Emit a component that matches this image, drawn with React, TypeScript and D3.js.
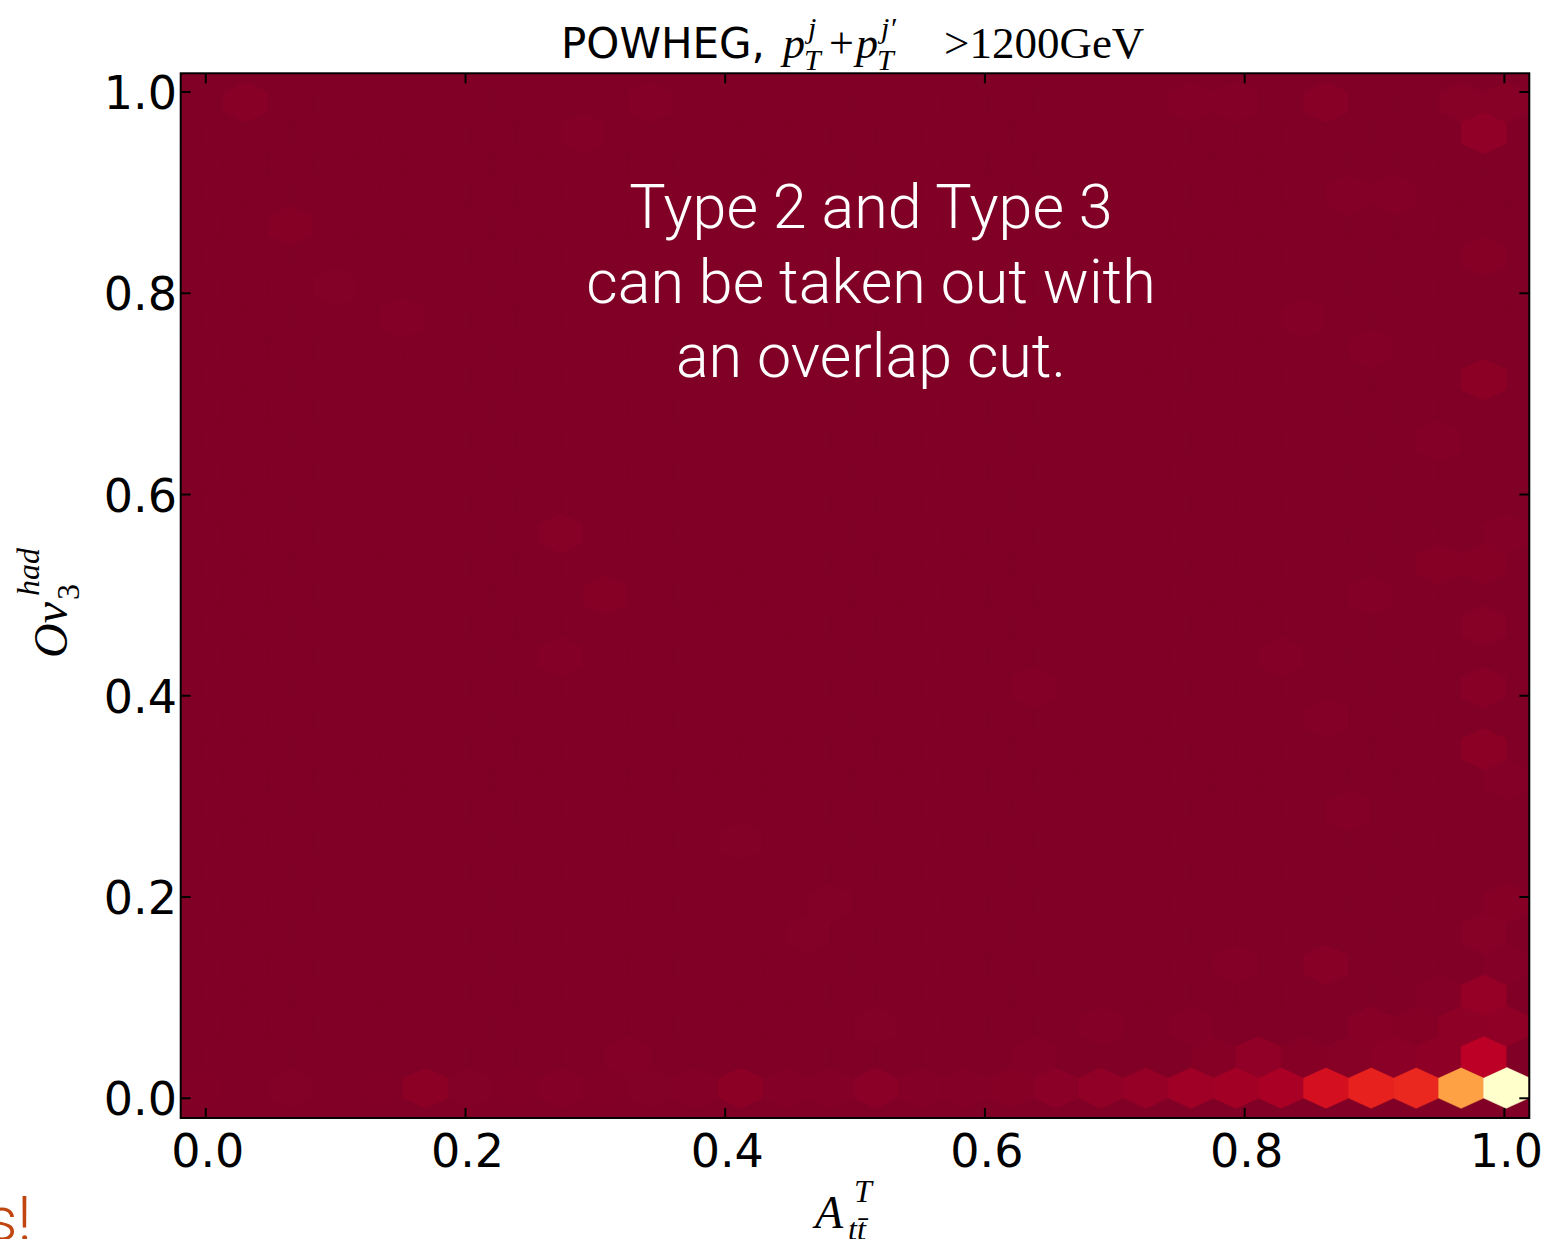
import React from 'react';
import * as d3 from 'd3';

// ---------------- data ----------------
const xTicks = [0.0, 0.2, 0.4, 0.6, 0.8, 1.0];
const yTicks = [0.0, 0.2, 0.4, 0.6, 0.8, 1.0];
const xDomain = [-0.0193, 1.0192];
const yDomain = [-0.0196, 1.0186];

// hexbin grid extent and size (gridsize 29)
const gridNx = 29;
const gridNy = 16;
const gridX = [-0.004, 1.0014];
const gridY = [0.0104, 0.9896];

// lattice A, bottom row (j = 0), i = 0..29 : counts
const bottomRowCounts = [4, 3, 6, 3, 5, 25, 6, 4, 8, 5, 6, 8, 24, 10, 8, 22, 9, 10, 12, 20, 35, 45, 66, 72, 86, 200, 270, 284, 568, 1000];

// other non-empty cells of lattice A : [i, j, count]
const latticeACells: [number, number, number][] = [
  [29, 1, 33], [28, 1, 30], [27, 1, 12], [26, 1, 16], [22, 1, 8], [20, 1, 8], [15, 1, 6],
  [25, 2, 18], [23, 2, 8], [29, 2, 10], [29, 3, 12], [14, 3, 6],
  [29, 5, 8], [25, 6, 8], [24, 7, 10], [26, 8, 10], [29, 9, 10],
  [8, 9, 14], [9, 8, 12], [8, 7, 10], [12, 4, 6],
  [26, 12, 8], [2, 14, 12], [25, 16, 18], [28, 16, 14], [29, 16, 14],
  [22, 16, 10], [23, 16, 10], [1, 16, 16], [10, 16, 8], [3, 13, 6],
];

// non-empty cells of lattice B : [i, j, count]
const latticeBCells: [number, number, number][] = [
  [28, 0, 123], [27, 0, 28], [26, 0, 22], [25, 0, 14], [24, 0, 12], [23, 0, 35], [22, 0, 12], [18, 0, 8], [9, 0, 8],
  [28, 1, 45], [27, 1, 10], [28, 2, 15], [25, 4, 10], [18, 6, 10],
  [28, 5, 25], [28, 6, 16], [28, 7, 15], [28, 8, 13], [27, 8, 12],
  [27, 10, 10], [28, 11, 25], [24, 12, 8], [28, 13, 12], [25, 14, 8], [26, 14, 8],
  [28, 15, 35], [8, 15, 8], [4, 12, 8], [13, 2, 6],
];

const cmapStops = ['#ffffcc', '#ffeda0', '#fed976', '#feb24c', '#fd8d3c', '#fc4e2a', '#e31a1c', '#bd0026', '#800026'];

const titleText = 'POWHEG,';
const noteLines = ['Type 2 and Type 3', 'can be taken out with', 'an overlap cut.'];

// ---------------- layout ----------------
const W = 1566;
const H = 1239;
const plot = { left: 180.7, right: 1529.3, top: 73.3, bottom: 1118 };

const sans = "'DejaVu Sans', sans-serif";
const serif = "'Liberation Serif', 'DejaVu Serif', serif";

export default function App() {
  const x = d3.scaleLinear().domain(xDomain).range([plot.left, plot.right]);
  const y = d3.scaleLinear().domain(yDomain).range([plot.bottom, plot.top]);

  const sx = (gridX[1] - gridX[0]) / gridNx;
  const sy = (gridY[1] - gridY[0]) / gridNy;

  // full lattice, zero counts by default
  const cells: { cx: number; cy: number; c: number }[] = [];
  const aMap = new Map<string, number>();
  bottomRowCounts.forEach((c, i) => aMap.set(`${i},0`, c));
  latticeACells.forEach(([i, j, c]) => aMap.set(`${i},${j}`, c));
  const bMap = new Map<string, number>();
  latticeBCells.forEach(([i, j, c]) => bMap.set(`${i},${j}`, c));
  for (let i = 0; i <= gridNx; i++)
    for (let j = 0; j <= gridNy; j++)
      cells.push({ cx: gridX[0] + i * sx, cy: gridY[0] + j * sy, c: aMap.get(`${i},${j}`) ?? 0 });
  for (let i = 0; i < gridNx; i++)
    for (let j = 0; j < gridNy; j++)
      cells.push({ cx: gridX[0] + (i + 0.5) * sx, cy: gridY[0] + (j + 0.5) * sy, c: bMap.get(`${i},${j}`) ?? 0 });

  const maxC = d3.max(cells, (d) => d.c) as number;
  const color = d3
    .scaleLinear<string>()
    .domain(cmapStops.map((_, k) => maxC * (1 - k / (cmapStops.length - 1))))
    .range(cmapStops)
    .interpolate(d3.interpolateRgb);

  const hexOffsets = [
    [0.5, -0.5], [0.5, 0.5], [0, 1], [-0.5, 0.5], [-0.5, -0.5], [0, -1],
  ];
  const hexPath = (cx: number, cy: number) => {
    const pts = hexOffsets.map(([a, b]) => [x(cx + a * sx), y(cy + (b * sy) / 3)]);
    return d3.line()(pts as [number, number][]) + 'Z';
  };

  const tickLen = 10;
  const fmt = d3.format('.1f');

  return (
    <svg width={W} height={H} style={{ position: 'absolute', left: 0, top: 0, background: '#fff' }}>
      <defs>
        <clipPath id="plotclip">
          <rect x={plot.left} y={plot.top} width={plot.right - plot.left} height={plot.bottom - plot.top} />
        </clipPath>
      </defs>
      <rect x={0} y={0} width={W} height={H} fill="#fff" />
      {/* background = colour of an empty bin */}
      <rect x={plot.left} y={plot.top} width={plot.right - plot.left} height={plot.bottom - plot.top} fill={color(0)} />
      <g clipPath="url(#plotclip)">
        {cells.map((d, k) => (
          <path key={k} d={hexPath(d.cx, d.cy)} fill={color(d.c)} stroke={color(d.c)} strokeWidth={0.6} />
        ))}
      </g>

      {/* note */}
      <text fill="#fff" fontFamily="Roboto, 'Open Sans', Lato, sans-serif" fontWeight={300} fontSize={61} textAnchor="middle">
        {noteLines.map((l, k) => (
          <tspan key={k} x={871} y={228 + k * 74.5}>{l}</tspan>
        ))}
      </text>

      {/* frame */}
      <rect x={plot.left} y={plot.top} width={plot.right - plot.left} height={plot.bottom - plot.top} fill="none" stroke="#000" strokeWidth={2} />

      {/* ticks */}
      {xTicks.map((t) => (
        <g key={'x' + t}>
          <line x1={x(t)} x2={x(t)} y1={plot.bottom} y2={plot.bottom - tickLen} stroke="#000" strokeWidth={2} />
          <line x1={x(t)} x2={x(t)} y1={plot.top} y2={plot.top + tickLen} stroke="#000" strokeWidth={2} />
          <text x={x(t) + 2} y={1167} textAnchor="middle" fontFamily={sans} fontSize={46}>{fmt(t)}</text>
        </g>
      ))}
      {yTicks.map((t) => (
        <g key={'y' + t}>
          <line x1={plot.left} x2={plot.left + tickLen} y1={y(t)} y2={y(t)} stroke="#000" strokeWidth={2} />
          <line x1={plot.right} x2={plot.right - tickLen} y1={y(t)} y2={y(t)} stroke="#000" strokeWidth={2} />
          <text x={177} y={y(t) + 17} textAnchor="end" fontFamily={sans} fontSize={46}>{fmt(t)}</text>
        </g>
      ))}

      {/* title */}
      <g>
        <text x={561} y={58} fontFamily={sans} fontSize={42}>{titleText}</text>
        <text x={783} y={58} fontFamily={serif} fontStyle="italic" fontSize={44}>p</text>
        <text x={808} y={38} fontFamily={serif} fontStyle="italic" fontSize={30}>j</text>
        <text x={804} y={70} fontFamily={serif} fontStyle="italic" fontSize={30}>T</text>
        <text x={829} y={58} fontFamily={serif} fontSize={44}>+</text>
        <text x={856} y={58} fontFamily={serif} fontStyle="italic" fontSize={44}>p</text>
        <text x={881} y={38} fontFamily={serif} fontStyle="italic" fontSize={30}>j′</text>
        <text x={877} y={70} fontFamily={serif} fontStyle="italic" fontSize={30}>T</text>
        <text x={944} y={58} fontFamily={serif} fontSize={45}>&gt;1200GeV</text>
      </g>

      {/* x label */}
      <g fontFamily={serif} fontStyle="italic">
        <text x={815} y={1228} fontSize={46}>A</text>
        <text x={854} y={1202} fontSize={32}>T</text>
        <text x={848} y={1240} fontSize={32}>tt̄</text>
      </g>

      {/* y label */}
      <g transform="translate(67,658) rotate(-90)" fontFamily={serif} fontStyle="italic">
        <text x={0} y={0} fontSize={48}>Ov</text>
        <text x={58} y={12} fontSize={32} fontStyle="normal">3</text>
        <text x={62} y={-28} fontSize={32}>had</text>
      </g>

      {/* slide fragment */}
      <text x={-14} y={1240} fontFamily="Roboto, 'Liberation Sans', sans-serif" fontWeight={300} fontSize={62} fill="#c0450f">s!</text>
    </svg>
  );
}
